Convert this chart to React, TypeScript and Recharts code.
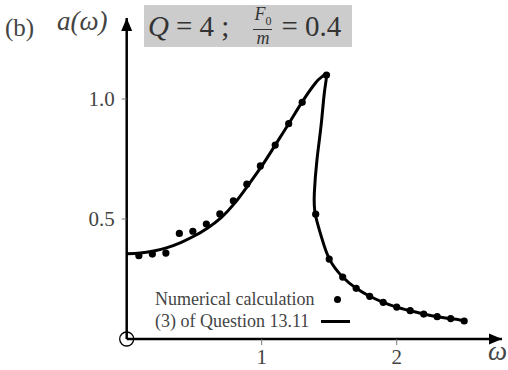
import {
  ComposedChart,
  Line,
  Scatter,
  XAxis,
  YAxis,
  ReferenceDot,
} from "recharts";

// solid curve: (3) of Question 13.11 in drawing order
const curveW = [0, 0.1, 0.2, 0.3, 0.4, 0.5, 0.6, 0.7, 0.8, 0.9, 1.0, 1.1, 1.2, 1.3, 1.4, 1.45, 1.48, 1.465, 1.44, 1.41, 1.39, 1.397, 1.44, 1.5, 1.6, 1.7, 1.8, 1.9, 2.0, 2.1, 2.2, 2.3, 2.4, 2.5];
const curveA = [0.355, 0.358, 0.367, 0.381, 0.402, 0.429, 0.463, 0.506, 0.566, 0.641, 0.72, 0.808, 0.897, 0.988, 1.068, 1.094, 1.1, 1.03, 0.89, 0.75, 0.61, 0.52, 0.43, 0.335, 0.258, 0.211, 0.178, 0.153, 0.133, 0.118, 0.104, 0.093, 0.085, 0.076];

// dots: numerical calculation
const dotW = [0.09, 0.19, 0.29, 0.39, 0.49, 0.59, 0.69, 0.79, 0.89, 0.99, 1.1, 1.2, 1.3, 1.48, 1.4, 1.5, 1.6, 1.7, 1.8, 1.9, 2.0, 2.1, 2.2, 2.3, 2.4, 2.5];
const dotA = [0.347, 0.354, 0.358, 0.44, 0.449, 0.479, 0.521, 0.576, 0.645, 0.721, 0.808, 0.897, 0.986, 1.1, 0.52, 0.333, 0.258, 0.211, 0.178, 0.153, 0.133, 0.118, 0.104, 0.093, 0.085, 0.075];

const xTicks = [1, 2];
const yTicks = [0.5, 1.0];
const xMax = 2.78;
const yMax = 1.3375;

const curve = curveW.map((w, i) => ({ w, a: curveA[i] }));
const dots = dotW.map((w, i) => ({ w, a: dotA[i] }));

const serif = "Liberation Serif";
const grey = "#444";

function TickText(props: any) {
  const { x, y, payload, textAnchor, dy, fmt } = props;
  return (
    <text
      x={x}
      y={y}
      dy={dy}
      textAnchor={textAnchor}
      fill={grey}
      style={{ fontFamily: serif, fontSize: 21 }}
    >
      {fmt ? fmt(payload.value) : payload.value}
    </text>
  );
}

export default function App() {
  return (
    <div style={{ position: "absolute", left: 0, top: 0, width: 508, height: 370, background: "#fff" }}>
      <ComposedChart width={508} height={370} margin={{ top: 18, right: 6, bottom: 0, left: 0 }}>
        <XAxis
          type="number"
          dataKey="w"
          domain={[0, xMax]}
          ticks={xTicks}
          height={31}
          tickSize={6}
          tickMargin={6}
          axisLine={{ stroke: "#000", strokeWidth: 2.5 }}
          tickLine={{ stroke: "#777", strokeWidth: 1 }}
          tick={<TickText dy={13} />}
          allowDataOverflow
        />
        <YAxis
          type="number"
          dataKey="a"
          domain={[0, yMax]}
          ticks={yTicks}
          width={126.7}
          tickSize={5}
          tickMargin={7}
          axisLine={{ stroke: "#000", strokeWidth: 2.5 }}
          tickLine={{ stroke: "#777", strokeWidth: 1 }}
          tick={<TickText dy={7} fmt={(v: number) => v.toFixed(1)} />}
          allowDataOverflow
        />
        <Line
          data={curve}
          dataKey="a"
          type="natural"
          stroke="#000"
          strokeWidth={3}
          dot={false}
          isAnimationActive={false}
        />
        <Scatter
          data={dots}
          dataKey="a"
          fill="#000"
          shape={(p: any) => <circle cx={p.cx} cy={p.cy} r={3.6} fill="#000" />}
          isAnimationActive={false}
        />
        <ReferenceDot
          x={0}
          y={0}
          ifOverflow="visible"
          shape={(p: any) => <circle cx={p.cx} cy={p.cy} r={7} fill="none" stroke="#000" strokeWidth={1.3} />}
        />
        <ReferenceDot
          x={xMax}
          y={0}
          ifOverflow="visible"
          shape={(p: any) => (
            <path d={`M${p.cx},${p.cy} L${p.cx - 13},${p.cy - 5.5} L${p.cx - 13},${p.cy + 5.5} Z`} fill="#000" />
          )}
        />
        <ReferenceDot
          x={0}
          y={yMax}
          ifOverflow="visible"
          shape={(p: any) => (
            <path d={`M${p.cx},${p.cy} L${p.cx - 5.5},${p.cy + 13} L${p.cx + 5.5},${p.cy + 13} Z`} fill="#000" />
          )}
        />
      </ComposedChart>

      <div style={{ position: "absolute", left: 155, top: 288, fontFamily: serif, fontSize: 18, color: grey, lineHeight: "22px" }}>
        <div style={{ display: "flex", alignItems: "center" }}>
          <span>Numerical calculation</span>
          <span style={{ display: "inline-block", width: 7, height: 7, borderRadius: 4, background: "#000", marginLeft: 20 }} />
        </div>
        <div style={{ display: "flex", alignItems: "center" }}>
          <span>(3) of Question 13.11</span>
          <span style={{ display: "inline-block", width: 29, height: 3, background: "#000", marginLeft: 12 }} />
        </div>
      </div>

      <div style={{ position: "absolute", left: 5, top: 14, fontFamily: serif, fontSize: 25, color: grey }}>(b)</div>
      <div style={{ position: "absolute", left: 57, top: 6, fontFamily: serif, fontSize: 27, fontStyle: "italic", color: grey }}>a(ω)</div>
      <div style={{ position: "absolute", left: 488, top: 336, fontFamily: serif, fontSize: 27, fontStyle: "italic", color: grey }}>ω</div>

      <div
        style={{
          position: "absolute",
          left: 144,
          top: 5,
          width: 208,
          height: 42,
          background: "#cccccc",
          fontFamily: serif,
          fontSize: 29,
          color: "#333",
          display: "flex",
          alignItems: "center",
          whiteSpace: "nowrap",
        }}
      >
        <span style={{ marginLeft: 4, fontStyle: "italic" }}>Q</span>
        <span style={{ marginLeft: 7 }}>= 4 ;</span>
        <span style={{ display: "inline-flex", flexDirection: "column", alignItems: "center", marginLeft: 24, fontSize: 18, lineHeight: "16px", fontStyle: "italic" }}>
          <span>
            F<sub style={{ fontSize: 12, fontStyle: "normal" }}>0</sub>
          </span>
          <span style={{ borderTop: "1px solid #333", padding: "0 3px" }}>m</span>
        </span>
        <span style={{ marginLeft: 9 }}>= 0.4</span>
      </div>
    </div>
  );
}
